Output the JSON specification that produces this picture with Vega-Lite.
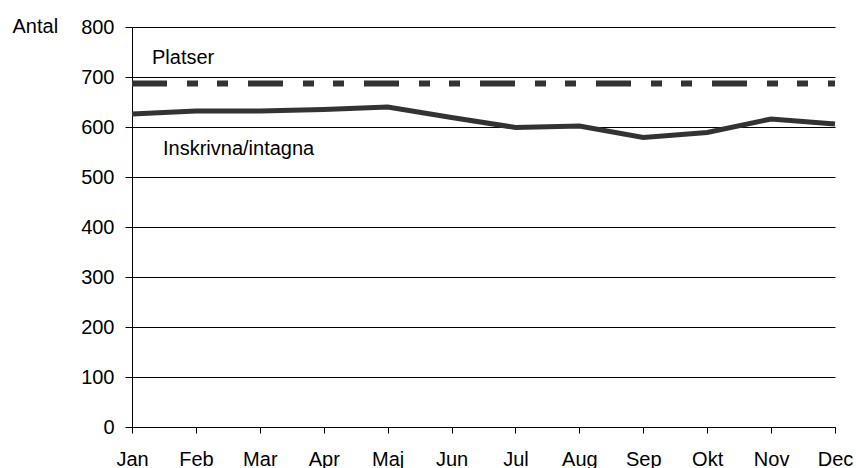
{
  "$schema": "https://vega.github.io/schema/vega-lite/v6.json",
  "width": 703,
  "height": 400,
  "autosize": "none",
  "padding": {"left": 132, "top": 27, "right": 21, "bottom": 41},
  "config": {
    "view": {"stroke": null},
    "font": "Liberation Sans",
    "axis": {"labelFont": "Liberation Sans", "titleFont": "Liberation Sans", "labelColor": "#000", "titleColor": "#000"}
  },
  "datasets": {
    "series": [
      {"month": "Jan", "inskrivna": 626, "platser": 687},
      {"month": "Feb", "inskrivna": 632, "platser": 687},
      {"month": "Mar", "inskrivna": 632, "platser": 687},
      {"month": "Apr", "inskrivna": 635, "platser": 687},
      {"month": "Maj", "inskrivna": 640, "platser": 687},
      {"month": "Jun", "inskrivna": 619, "platser": 687},
      {"month": "Jul", "inskrivna": 599, "platser": 687},
      {"month": "Aug", "inskrivna": 602, "platser": 687},
      {"month": "Sep", "inskrivna": 579, "platser": 687},
      {"month": "Okt", "inskrivna": 589, "platser": 687},
      {"month": "Nov", "inskrivna": 616, "platser": 687},
      {"month": "Dec", "inskrivna": 606, "platser": 687}
    ],
    "labelPlatser": [
      {"month": "Jan", "label": "Platser", "value": 727}
    ],
    "labelInskrivna": [
      {"month": "Jan", "label": "Inskrivna/intagna", "value": 545}
    ]
  },
  "layer": [
    {
      "data": {"name": "series"},
      "mark": {"type": "line", "color": "#333333", "strokeWidth": 6, "strokeDash": [35, 20, 11, 19, 11, 20], "strokeCap": "butt"},
      "encoding": {
        "x": {"field": "month", "type": "ordinal", "sort": null,
          "scale": {"type": "point", "padding": 0},
          "axis": {"title": null, "labelAngle": 0, "labelFontSize": 20, "labelBaseline": "alphabetic", "labelPadding": 32, "tickSize": 6, "tickColor": "#000", "domainColor": "#000", "labelFlush": false}},
        "y": {"field": "platser", "type": "quantitative",
          "scale": {"domain": [0, 800], "nice": false},
          "axis": {"values": [0, 100, 200, 300, 400, 500, 600, 700, 800], "labelFontSize": 20, "labelPadding": 11, "tickSize": 7, "tickColor": "#000", "domainColor": "#000", "gridColor": "#000", "grid": true,
            "title": "Antal", "titleAngle": 0, "titleAlign": "left", "titleBaseline": "alphabetic", "titleFontSize": 20, "titleFontWeight": "normal", "titleX": -120, "titleY": 5}}
      }
    },
    {
      "data": {"name": "series"},
      "mark": {"type": "line", "color": "#333333", "strokeWidth": 5, "strokeJoin": "miter"},
      "encoding": {
        "x": {"field": "month", "type": "ordinal", "sort": null},
        "y": {"field": "inskrivna", "type": "quantitative"}
      }
    },
    {
      "data": {"name": "labelPlatser"},
      "mark": {"type": "text", "align": "left", "baseline": "alphabetic", "fontSize": 20, "color": "#000", "dx": 20},
      "encoding": {
        "x": {"field": "month", "type": "ordinal", "sort": null},
        "y": {"field": "value", "type": "quantitative"},
        "text": {"field": "label"}
      }
    },
    {
      "data": {"name": "labelInskrivna"},
      "mark": {"type": "text", "align": "left", "baseline": "alphabetic", "fontSize": 20, "color": "#000", "dx": 31},
      "encoding": {
        "x": {"field": "month", "type": "ordinal", "sort": null},
        "y": {"field": "value", "type": "quantitative"},
        "text": {"field": "label"}
      }
    }
  ]
}
